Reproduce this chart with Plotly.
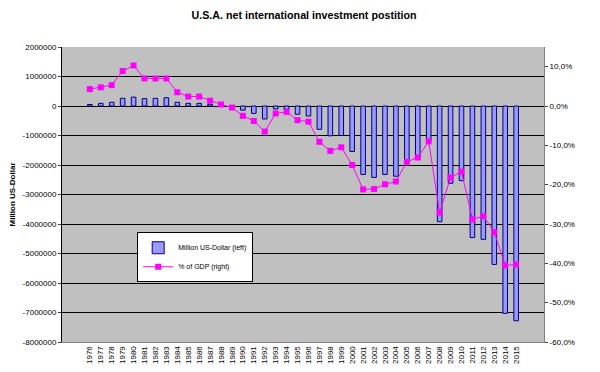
import plotly.graph_objects as go

years = [str(y) for y in range(1976, 2016)]
niip_musd = [50000, 90000, 125000, 260000, 300000, 250000, 260000, 280000, 125000, 90000,
             90000, 60000, 10000, -40000, -140000, -250000, -440000, -100000, -110000, -280000,
             -340000, -790000, -1010000, -1000000, -1540000, -2320000, -2420000, -2320000, -2380000, -1880000,
             -1800000, -1190000, -3920000, -2620000, -2530000, -4460000, -4520000, -5370000, -7030000, -7280000]
pct_gdp = [4.3, 4.75, 5.3, 8.9, 10.3, 7.0, 7.0, 7.0, 3.5, 2.4,
           2.4, 1.35, 0.4, -0.4, -2.5, -3.8, -6.5, -1.9, -1.5, -3.6,
           -4.0, -9.1, -11.4, -10.5, -15.0, -21.2, -21.1, -19.9, -19.2, -14.2,
           -13.1, -9.0, -27.1, -18.2, -16.7, -28.8, -28.0, -32.1, -40.5, -40.3]

left_tickvals = [2000000, 1000000, 0, -1000000, -2000000, -3000000, -4000000, -5000000, -6000000, -7000000, -8000000]
left_ticktext = ["2000000", "1000000", "0", "-1000000", "-2000000", "-3000000", "-4000000", "-5000000", "-6000000", "-7000000", "-8000000"]
right_tickvals = [10, 0, -10, -20, -30, -40, -50, -60]
right_ticktext = ["10,0%", "0,0%", "-10,0%", "-20,0%", "-30,0%", "-40,0%", "-50,0%", "-60,0%"]

font = "Liberation Sans, Arial, sans-serif"

fig = go.Figure()
fig.add_trace(go.Bar(
    x=years, y=niip_musd, name="Million US-Dollar (left)",
    marker=dict(color="#9999ff", line=dict(color="#000080", width=1)),
    width=0.42, yaxis="y"
))
fig.add_trace(go.Scatter(
    x=years, y=pct_gdp, name="% of GDP (right)", mode="lines+markers",
    line=dict(color="#ff00ff", width=1),
    marker=dict(symbol="square", size=6, color="#ff00ff"),
    yaxis="y2"
))

# page body has an 8px margin; figure sized so the whole chart fits the 600x372 window
fig.update_layout(
    width=592, height=364,
    margin=dict(l=54, r=56, t=39, b=30, autoexpand=False),
    paper_bgcolor="white", plot_bgcolor="#c0c0c0",
    font=dict(family=font, size=8, color="black"),
    title=dict(text="<b>U.S.A. net international investment postition</b>",
               x=0.5, xanchor="center", y=0.981, yanchor="middle",
               font=dict(size=10.7, family=font, color="black")),
    showlegend=True,
    legend=dict(x=0.156, y=0.372, xanchor="left", yanchor="top",
                bgcolor="white", bordercolor="black", borderwidth=1,
                font=dict(size=7, family=font), tracegroupgap=0,
                itemwidth=30),
    xaxis=dict(type="category", tickangle=-90, tickfont=dict(size=8),
               showgrid=False, showline=True, linecolor="#808080",
               ticks="", automargin=False),
    yaxis=dict(range=[-8000000, 2000000], tickvals=left_tickvals, ticktext=left_ticktext,
               showgrid=True, gridcolor="black", gridwidth=1,
               zeroline=True, zerolinecolor="black", zerolinewidth=1,
               showline=True, linecolor="black", ticks="outside", ticklen=3,
               tickfont=dict(size=8), automargin=False,
               title=dict(text="<b>Million US-Dollar</b>", font=dict(size=8), standoff=6)),
    yaxis2=dict(range=[-60, 15], tickvals=right_tickvals, ticktext=right_ticktext,
                overlaying="y", side="right", showgrid=False, zeroline=False,
                showline=True, linecolor="#808080", ticks="outside", ticklen=3,
                tickfont=dict(size=8), automargin=False),
)

fig.write_html("out.html")
